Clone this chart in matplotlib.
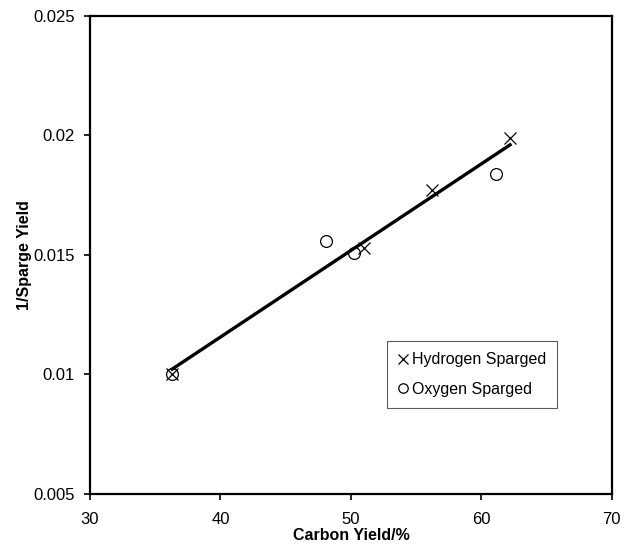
import matplotlib
matplotlib.use("Agg")
import matplotlib.pyplot as plt
import numpy as np

plt.rcParams['font.family'] = ['Liberation Sans', 'DejaVu Sans']

h_x = [36.3, 51.0, 56.2, 62.2]
h_y = [0.0100, 0.0153, 0.0177, 0.0199]
o_x = [36.3, 48.1, 50.2, 61.1]
o_y = [0.0100, 0.0156, 0.0151, 0.0184]

x_ticks = [30, 40, 50, 60, 70]
y_ticks = [0.005, 0.01, 0.015, 0.02, 0.025]
y_tick_labels = ['0.005', '0.01', '0.015', '0.02', '0.025']

fig = plt.figure(figsize=(6.34, 5.5), dpi=100)
ax = fig.add_axes([0.142, 0.102, 0.823, 0.869])

# trend line over all points
all_x = np.array(h_x + o_x)
all_y = np.array(h_y + o_y)
k, b = np.polyfit(all_x, all_y, 1)
xs = np.array([all_x.min(), all_x.max()])
ax.plot(xs, k * xs + b, color='black', lw=2.4, zorder=2)

ax.plot(h_x, h_y, linestyle='none', marker='x', ms=8.5, mew=0.9, color='black',
        label='Hydrogen Sparged', zorder=3)
ax.plot(o_x, o_y, linestyle='none', marker='o', ms=8.5, mew=0.9, mfc='none', mec='black',
        label='Oxygen Sparged', zorder=3)

ax.set_xlim(30, 70)
ax.set_ylim(0.005, 0.025)
ax.set_xticks(x_ticks)
ax.set_yticks(y_ticks)
ax.set_yticklabels(y_tick_labels)
ax.tick_params(direction='out', length=4, width=1.2, labelsize=12, colors='black')
ax.tick_params(axis='x', pad=9)
ax.tick_params(axis='y', pad=7)
for s in ax.spines.values():
    s.set_linewidth(1.6)

ax.set_xlabel('Carbon Yield/%', fontsize=11.5, fontweight='bold', labelpad=1)
ax.set_ylabel('1/Sparge Yield', fontsize=11.5, fontweight='bold', labelpad=1)

leg = ax.legend(loc='lower left', bbox_to_anchor=(0.569, 0.18), borderaxespad=0,
                fontsize=11.5, frameon=True, fancybox=False, handlelength=0.6,
                handletextpad=0.25, labelspacing=0.9, borderpad=0.7, markerscale=0.8)
leg.get_frame().set_edgecolor('#333333')
leg.get_frame().set_linewidth(0.8)

fig.savefig('out.png', dpi=100)
